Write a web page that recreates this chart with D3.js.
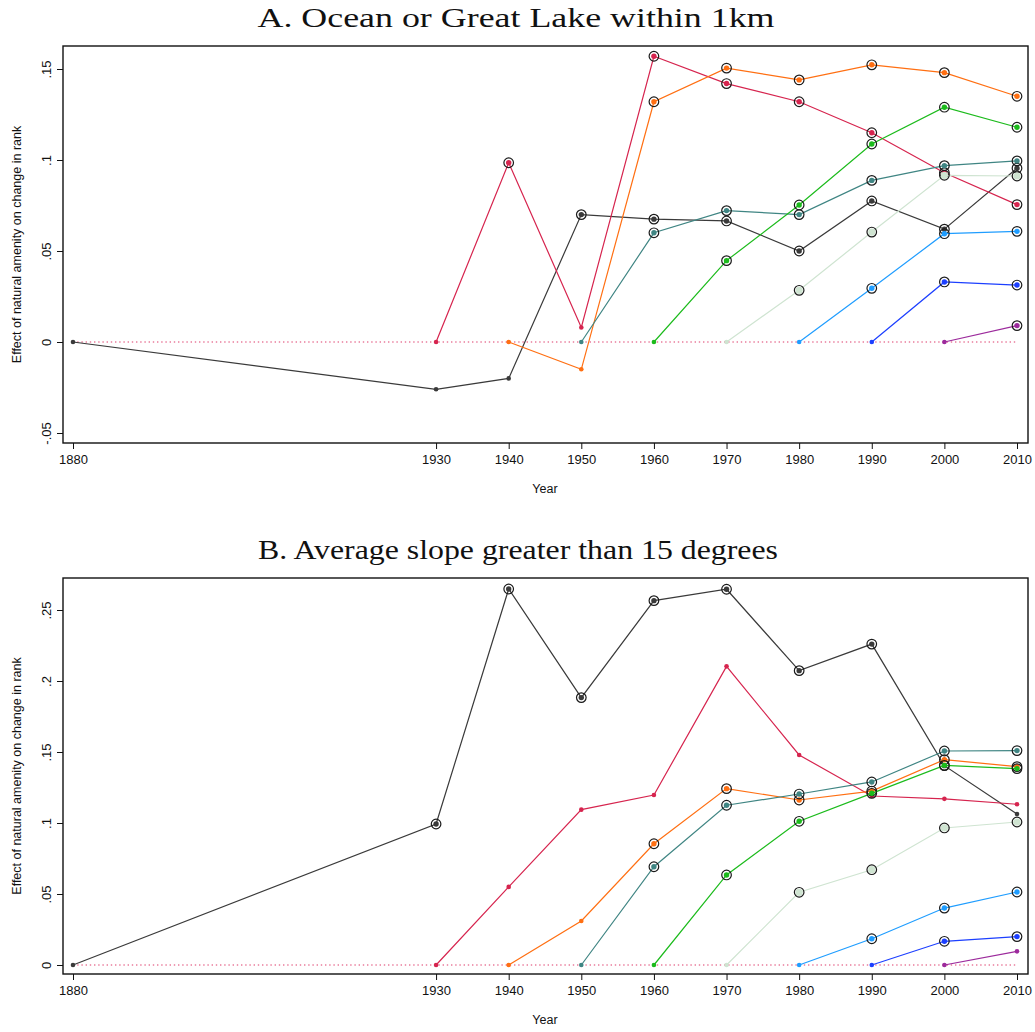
<!DOCTYPE html>
<meta charset="utf-8">
<head>
  <title>Natural amenity effects by cohort</title>
</head>

<style>
body {
  margin: 0;
  background: #fff;
}
svg text {
  font-family: "Liberation Sans", Arial, Helvetica, sans-serif;
  fill: #111;
}
.title {
  font-family: "Liberation Serif", "Times New Roman", serif;
}
</style>

<body>
  <div id="content">
    <svg width="1035" height="1032"></svg>
  </div>

  <script src="https://cdnjs.cloudflare.com/ajax/libs/d3/7.8.5/d3.min.js"></script>

  <script>
// decades on the x axis
var years = [1880, 1930, 1940, 1950, 1960, 1970, 1980, 1990, 2000, 2010];
// each cohort starts at its own year and runs to 2010
var cohortStart = [1880, 1930, 1940, 1950, 1960, 1970, 1980, 1990, 2000];
var cohortColors = ['#3a3a3a', '#d6244e', '#ff6f12', '#3f8583', '#1cbb1c', '#cfe4d1', '#1f9dff', '#1c3fff', '#9c2a9c'];

// Panel A: ocean or Great Lake within 1km
var oceanValues = [
  [0, -0.026, -0.020, 0.070, 0.0675, 0.0665, 0.050, 0.0775, 0.062, 0.0955],
  [0, 0.0985, 0.008, 0.157, 0.142, 0.132, 0.115, 0.093, 0.0755],
  [0, -0.015, 0.132, 0.1505, 0.144, 0.1523, 0.148, 0.135],
  [0, 0.060, 0.0722, 0.070, 0.0888, 0.0969, 0.0995],
  [0, 0.0447, 0.0753, 0.1088, 0.129, 0.118],
  [0, 0.0284, 0.0604, 0.0916, 0.0912],
  [0, 0.0295, 0.0595, 0.0608],
  [0, 0.033, 0.0313],
  [0, 0.009]
];
// 1 = ringed (significant) marker
var oceanSig = [
  [0, 0, 0, 1, 1, 1, 1, 1, 1, 1],
  [0, 1, 0, 1, 1, 1, 1, 1, 1],
  [0, 0, 1, 1, 1, 1, 1, 1],
  [0, 1, 1, 1, 1, 1, 1],
  [0, 1, 1, 1, 1, 1],
  [0, 1, 1, 1, 1],
  [0, 1, 1, 1],
  [0, 1, 1],
  [0, 1]
];
var oceanTicks = [-0.05, 0, 0.05, 0.1, 0.15];

// Panel B: average slope greater than 15 degrees
var slopeValues = [
  [0, 0.0993, 0.2648, 0.1883, 0.2566, 0.2646, 0.2073, 0.226, 0.1404, 0.1063],
  [0, 0.055, 0.1094, 0.1197, 0.2103, 0.1479, 0.119, 0.117, 0.1132],
  [0, 0.031, 0.0854, 0.1242, 0.1162, 0.1225, 0.1446, 0.1397],
  [0, 0.0692, 0.1125, 0.1204, 0.1289, 0.1507, 0.151],
  [0, 0.0634, 0.1012, 0.1209, 0.1406, 0.1383],
  [0, 0.0512, 0.0671, 0.0965, 0.1007],
  [0, 0.0185, 0.0401, 0.0514],
  [0, 0.0167, 0.020],
  [0, 0.0096]
];
var slopeSig = [
  [0, 1, 1, 1, 1, 1, 1, 1, 1, 0],
  [0, 0, 0, 0, 0, 0, 0, 0, 0],
  [0, 0, 1, 1, 1, 1, 1, 1],
  [0, 1, 1, 1, 1, 1, 1],
  [0, 1, 1, 1, 1, 1],
  [0, 1, 1, 1, 1],
  [0, 1, 1, 1],
  [0, 1, 1],
  [0, 0]
];
var slopeTicks = [0, 0.05, 0.1, 0.15, 0.2, 0.25];

var svg = d3.select('#content svg');

// Stata-style labels: drop the leading zero (.05, -.05)
function tickLabel(v) {
  if (v === 0) return '0';
  return String(+v.toFixed(2)).replace(/^(-?)0\./, '$1.');
}

function drawPanel(opts) {
  var x = d3.scaleLinear().domain([1880, 2010]).range([73, 1017]);
  var y = d3.scaleLinear().domain(opts.yDomain).range([opts.bottom, opts.top]);
  var g = svg.append('g');

  g.append('text')
    .attr('class', 'title')
    .attr('x', opts.titleX)
    .attr('y', opts.top - 19)
    .attr('text-anchor', 'middle')
    .attr('textLength', opts.titleWidth)
    .attr('lengthAdjust', 'spacingAndGlyphs')
    .style('font-size', '28px')
    .text(opts.title);

  // zero reference line
  g.append('line')
    .attr('x1', x(1880)).attr('x2', x(2010))
    .attr('y1', y(0)).attr('y2', y(0))
    .attr('stroke', '#e97c9c')
    .attr('stroke-width', 1.3)
    .attr('stroke-dasharray', '1.4,2.8');

  var line = d3.line()
    .x(function(d) { return x(d.year); })
    .y(function(d) { return y(d.value); });

  opts.values.forEach(function(vals, i) {
    var startIdx = years.indexOf(cohortStart[i]);
    var pts = vals.map(function(v, j) {
      return {year: years[startIdx + j], value: v, sig: opts.sig[i][j]};
    });
    var c = cohortColors[i];
    g.append('path')
      .attr('d', line(pts))
      .attr('fill', 'none')
      .attr('stroke', c)
      .attr('stroke-width', 1.2);
    g.selectAll(null).data(pts).enter().append('circle')
      .attr('cx', function(d) { return x(d.year); })
      .attr('cy', function(d) { return y(d.value); })
      .attr('r', function(d) { return d.sig ? (i === 5 ? 3.6 : 2.7) : 2.3; })
      .attr('fill', c);
    g.selectAll(null).data(pts.filter(function(d) { return d.sig; })).enter().append('circle')
      .attr('cx', function(d) { return x(d.year); })
      .attr('cy', function(d) { return y(d.value); })
      .attr('r', 4.8)
      .attr('fill', 'none')
      .attr('stroke', '#1a1a1a')
      .attr('stroke-width', 1.2);
  });

  // frame
  g.append('rect')
    .attr('x', 63).attr('y', opts.top)
    .attr('width', 1028 - 63).attr('height', opts.bottom - opts.top)
    .attr('fill', 'none')
    .attr('stroke', '#111')
    .attr('stroke-width', 1.4);

  // y axis
  var yAxis = g.append('g')
    .attr('transform', 'translate(63,0)')
    .call(d3.axisLeft(y).tickValues(opts.ticks).tickSize(6).tickFormat(tickLabel));
  yAxis.select('.domain').remove();
  yAxis.selectAll('.tick line').attr('stroke', '#111');
  yAxis.selectAll('.tick text')
    .attr('x', null).attr('dy', null)
    .attr('text-anchor', 'middle')
    .attr('transform', 'translate(-12,0) rotate(-90)')
    .style('font-size', '13px')
    .style('font-family', '"Liberation Sans", Arial, sans-serif');

  // x axis
  var xAxis = g.append('g')
    .attr('transform', 'translate(0,' + opts.bottom + ')')
    .call(d3.axisBottom(x).tickValues(years).tickSize(6).tickFormat(d3.format('d')));
  xAxis.select('.domain').remove();
  xAxis.selectAll('.tick line').attr('stroke', '#111');
  xAxis.selectAll('.tick text')
    .attr('y', 12)
    .style('font-size', '13px')
    .style('font-family', '"Liberation Sans", Arial, sans-serif');

  g.append('text')
    .attr('x', 545)
    .attr('y', opts.bottom + 50)
    .attr('text-anchor', 'middle')
    .style('font-size', '12.5px')
    .text('Year');

  g.append('text')
    .attr('transform', 'translate(21,' + ((opts.top + opts.bottom) / 2) + ') rotate(-90)')
    .attr('text-anchor', 'middle')
    .style('font-size', '12.5px')
    .text('Effect of natural amenity on change in rank');
}

drawPanel({
  title: 'A. Ocean or Great Lake within 1km',
  titleX: 516, titleWidth: 517,
  top: 46, bottom: 443,
  yDomain: [-(443 - 342) / 1820, (342 - 46) / 1820],
  values: oceanValues, sig: oceanSig, ticks: oceanTicks
});

drawPanel({
  title: 'B. Average slope greater than 15 degrees',
  titleX: 518, titleWidth: 520,
  top: 578, bottom: 974,
  yDomain: [-(974 - 965) / 1420, (965 - 578) / 1420],
  values: slopeValues, sig: slopeSig, ticks: slopeTicks
});
  </script>
</body>
</html>
